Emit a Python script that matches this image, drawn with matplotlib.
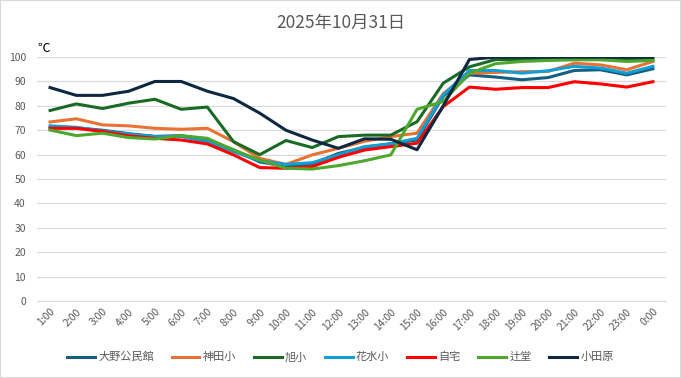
import matplotlib.pyplot as plt

plt.rcParams['font.family'] = ['Noto Sans CJK JP', 'DejaVu Sans']

# hours on the x axis
hours = ["1:00", "2:00", "3:00", "4:00", "5:00", "6:00", "7:00", "8:00",
         "9:00", "10:00", "11:00", "12:00", "13:00", "14:00", "15:00", "16:00",
         "17:00", "18:00", "19:00", "20:00", "21:00", "22:00", "23:00", "0:00"]

# humidity-ish values
oono = [71, 71, 70, 68.6, 67.5, 67.8, 66, 62, 57, 55.3, 56.2, 60.5,
        63, 64.5, 66, 84, 92.7, 91.8, 90.7, 91.6, 94.5, 94.8, 92.7, 95.2]
kanda = [73.4, 74.7, 72.2, 71.8, 70.8, 70.4, 70.8, 65.3, 58.5, 56, 59.9, 62.6,
         65.5, 67.4, 68.8, 85, 93.4, 93.7, 94, 94.1, 97.5, 96.8, 94.8, 98.2]
asahi = [78.1, 80.8, 78.9, 81.1, 82.7, 78.6, 79.5, 65.3, 60, 65.8, 62.9, 67.4,
         68, 68, 73.5, 89.3, 96, 99, 99, 99, 99, 99, 99, 99.2]
hanamizu = [71.8, 71.2, 69.7, 68.4, 67.4, 67.4, 65.3, 61.2, 57.5, 56, 56.7, 59.9,
            63.3, 64.4, 66.7, 84.5, 94.5, 94.5, 93.4, 94.4, 96.2, 95.5, 93.4, 96.2]
jitaku = [70.8, 70.8, 69.5, 67.7, 66.7, 66, 64.4, 59.9, 54.7, 54.4, 55.1, 58.9,
          61.9, 63.3, 64.7, 79.7, 87.7, 86.8, 87.5, 87.5, 89.9, 89, 87.7, 89.9]
tsujido = [70.1, 67.8, 68.8, 67, 66.4, 67.8, 66.7, 61.9, 57.8, 54.4, 54.1, 55.5,
           57.5, 59.9, 78.6, 81.8, 93.4, 97.3, 98.2, 98.6, 98.9, 98.9, 98.2, 98.6]
odawara = [87.5, 84.3, 84.3, 86, 90, 90, 86, 83, 77, 70, 66, 62.6,
           66.5, 66.3, 62, 80, 99, 100, 100, 100, 100, 100, 100, 100]

names = ["大野公民館", "神田小", "旭小", "花水小", "自宅", "辻堂", "小田原"]
series = [oono, kanda, asahi, hanamizu, jitaku, tsujido, odawara]
colors = ["#156082", "#E97132", "#196B24", "#0F9ED5", "#FF0000", "#4EA72E", "#0E2841"]

fig = plt.figure(figsize=(6.81, 3.78), dpi=100)
ax = fig.add_axes([0.0543, 0.2037, 0.9237, 0.6453])

x = range(len(hours))
for name, vals, col in zip(names, series, colors):
    ax.plot(x, vals, color=col, lw=2.2, label=name, solid_joinstyle="round")

ax.set_xlim(-0.5, len(hours) - 0.5)
ax.set_ylim(0, 100)
ax.set_yticks(range(0, 101, 10))
ax.set_xticks(list(x))
ax.set_xticklabels(hours, rotation=45, ha="right", rotation_mode="anchor")
ax.tick_params(axis="both", length=0, labelsize=7.5, colors="#595959")
ax.tick_params(axis="y", pad=8)
ax.tick_params(axis="x", pad=4)
ax.grid(axis="y", color="#d9d9d9", lw=0.9)
ax.set_axisbelow(True)
for s in ["top", "right", "left"]:
    ax.spines[s].set_visible(False)
ax.spines["bottom"].set_color("#d9d9d9")

fig.text(0.5, 0.94, "2025年10月31日", ha="center", va="center",
         fontsize=12.5, color="#595959")
fig.text(0.055, 0.872, "℃", ha="left", va="center", fontsize=9, color="black")

fig.legend(loc="center", bbox_to_anchor=(0.5, 0.055), ncol=7, frameon=False,
           fontsize=8, labelcolor="#595959", handlelength=2.5,
           handletextpad=0.3, columnspacing=1.6)

# light frame around the whole chart
fig.patches.append(plt.Rectangle((0, 0), 1, 1, transform=fig.transFigure,
                                 fill=False, edgecolor="#d9d9d9", lw=1.5))

fig.savefig("out.png", dpi=100)
